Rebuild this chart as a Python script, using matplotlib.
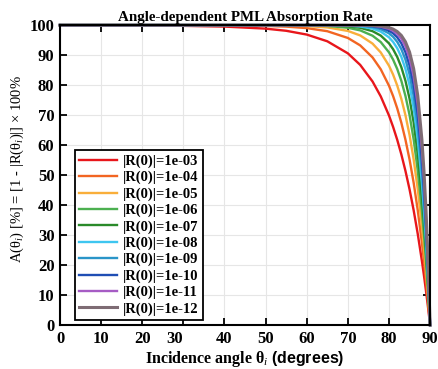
import matplotlib.pyplot as plt
from matplotlib.transforms import ScaledTranslation

# incidence angles (degrees) at which the curves were read
angles = [0, 10, 20, 30, 40, 50, 55, 60, 65, 70, 73, 76, 78, 80, 81,
          82, 83, 84, 85, 86, 87, 88, 88.5, 89, 89.5, 90]

# absorption A (%) for each normal-incidence reflection |R(0)|
a_1e03 = [99.90, 99.89, 99.85, 99.75, 99.50, 98.82, 98.10, 96.84, 94.60, 90.58, 86.73, 81.20, 76.22,
          69.86, 66.06, 61.77, 56.91, 51.41, 45.24, 38.25, 30.32, 21.43, 16.55, 11.35, 5.85, 0]
a_1e04 = [99.99, 99.99, 99.98, 99.97, 99.91, 99.73, 99.49, 99.00, 97.96, 95.71, 93.23, 89.22, 85.26,
          79.79, 76.33, 72.25, 67.46, 61.81, 55.20, 47.42, 38.22, 27.49, 21.43, 14.84, 7.72, 0]
a_1e05 = [100.0, 100.0, 100.0, 100.0, 99.99, 99.94, 99.86, 99.68, 99.23, 98.05, 96.55, 93.83, 90.87,
          86.45, 83.49, 79.86, 75.42, 69.98, 63.36, 55.22, 45.24, 33.08, 26.03, 18.21, 9.54, 0]
a_1e06 = [100.0, 100.0, 100.0, 100.0, 100.0, 99.99, 99.96, 99.90, 99.71, 99.11, 98.24, 96.46, 94.34,
          90.91, 88.49, 85.38, 81.43, 76.40, 70.03, 61.87, 51.44, 38.25, 30.36, 21.43, 11.36, 0]
a_1e07 = [100.0, 100.0, 100.0, 100.0, 100.0, 100.0, 99.99, 99.97, 99.89, 99.60, 99.10, 97.97, 96.50,
          93.91, 91.96, 89.39, 85.98, 81.45, 75.48, 67.54, 56.96, 43.02, 34.43, 24.53, 13.13, 0]
a_1e08 = [100.0, 100.0, 100.0, 100.0, 100.0, 100.0, 100.0, 99.99, 99.96, 99.82, 99.54, 98.84, 97.83,
          95.92, 94.39, 92.30, 89.41, 85.41, 79.94, 72.35, 61.84, 47.42, 38.25, 27.49, 14.85, 0]
a_1e09 = [100.0, 100.0, 100.0, 100.0, 100.0, 100.0, 100.0, 100.0, 99.98, 99.92, 99.77, 99.34, 98.65,
          97.26, 96.09, 94.41, 92.00, 88.53, 83.59, 76.46, 66.17, 51.48, 41.88, 30.36, 16.56, 0]
a_1e10 = [100.0, 100.0, 100.0, 100.0, 100.0, 100.0, 100.0, 100.0, 99.99, 99.96, 99.88, 99.62, 99.17,
          98.16, 97.27, 95.94, 93.96, 90.98, 86.57, 79.96, 70.01, 55.22, 45.28, 33.12, 18.21, 0]
a_1e11 = [100.0, 100.0, 100.0, 100.0, 100.0, 100.0, 100.0, 100.0, 100.0, 99.98, 99.94, 99.78, 99.48,
          98.77, 98.10, 97.06, 95.44, 92.91, 89.02, 82.93, 73.41, 58.69, 48.48, 35.73, 19.83, 0]
a_1e12 = [100.0, 100.0, 100.0, 100.0, 100.0, 100.0, 100.0, 100.0, 100.0, 99.99, 99.97, 99.87, 99.68,
          99.17, 98.67, 97.86, 96.55, 94.43, 91.01, 85.47, 76.43, 61.87, 51.49, 38.25, 21.44, 0]

labels = ['|R(0)|=1e-03', '|R(0)|=1e-04', '|R(0)|=1e-05', '|R(0)|=1e-06', '|R(0)|=1e-07',
          '|R(0)|=1e-08', '|R(0)|=1e-09', '|R(0)|=1e-10', '|R(0)|=1e-11', '|R(0)|=1e-12']
colors = ['#e8161b', '#f26522', '#f9ae3a', '#4cb050', '#2a8a2a',
          '#3ec6f0', '#2a95c8', '#1f4eb4', '#a65cc4', '#7e6c74']
series = [a_1e03, a_1e04, a_1e05, a_1e06, a_1e07, a_1e08, a_1e09, a_1e10, a_1e11, a_1e12]

plt.rcParams['font.family'] = 'Liberation Serif'
plt.rcParams['mathtext.fontset'] = 'custom'
plt.rcParams['mathtext.rm'] = 'Liberation Serif'
plt.rcParams['mathtext.it'] = 'Liberation Serif:italic'
plt.rcParams['mathtext.bf'] = 'Liberation Serif:bold'
plt.rcParams['mathtext.sf'] = 'Liberation Sans:bold'

fig = plt.figure(figsize=(4.38, 3.69), dpi=100)
ax = fig.add_axes([0.137, 0.119, 0.845, 0.813])

for vals, lab, col in zip(series, labels, colors):
    lw = 2.2 if lab.endswith('12') else 1.7
    ax.plot(angles, vals, color=col, lw=lw, label=lab, clip_on=False)

ax.set_xlim(0, 90)
ax.set_ylim(0, 100)
ax.set_xticks(range(0, 91, 10))
ax.set_yticks(range(0, 101, 10))
ax.grid(True, color='#e6e6e6', lw=0.8)
ax.set_axisbelow(True)
ax.tick_params(direction='in', top=True, right=True, length=5, width=1.3,
               labelsize=12, pad=4)
for t in ax.get_xticklabels() + ax.get_yticklabels():
    t.set_fontweight('bold')
for s in ax.spines.values():
    s.set_linewidth(1.5)

# the "30" label sits a little left of its tick in the original
lab30 = ax.get_xticklabels()[3]
lab30.set_transform(lab30.get_transform() + ScaledTranslation(-0.09, 0, fig.dpi_scale_trans))

ax.set_title('Angle-dependent PML Absorption Rate', fontsize=10.8,
             fontweight='bold', pad=3)
ax.set_xlabel('Incidence angle θ$_i$ $\\mathsf{(degrees)}$', fontsize=11.5,
              fontweight='bold', labelpad=2)
ax.set_ylabel('A(θ$_i$) [%] = [1 - |R(θ$_i$)|] × 100%', fontsize=10.5)
ax.yaxis.set_label_coords(-0.092, 0.52)

leg = ax.legend(loc='lower left', bbox_to_anchor=(0.04, 0.017), borderaxespad=0,
                fancybox=False, edgecolor='black', framealpha=1,
                prop={'weight': 'bold', 'size': 10.5},
                labelspacing=0.2, handlelength=2.6, handletextpad=0.4,
                borderpad=0.3)
leg.get_frame().set_linewidth(1.3)

plt.savefig('out.png', dpi=100)
